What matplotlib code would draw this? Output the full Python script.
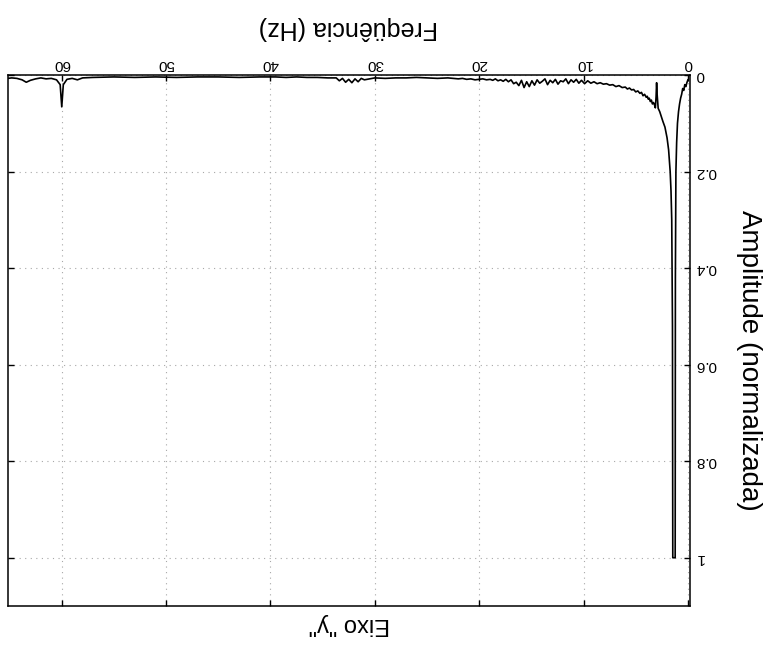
import matplotlib
matplotlib.use("Agg")
import matplotlib.pyplot as plt

plt.rcParams['font.family'] = ['Liberation Sans', 'DejaVu Sans']

# Normalised amplitude spectrum (frequency in Hz)
freq_hz = [
    0.00, 0.10, 0.20, 0.30, 0.40, 0.50, 0.60, 0.70, 0.80, 0.90,
    1.00, 1.08, 1.15, 1.20, 1.22, 1.45, 1.48, 1.55, 1.62, 1.70,
    1.85, 2.00, 2.20, 2.40, 2.55, 2.70, 2.85, 2.95, 3.00, 3.05,
    3.12, 3.20, 3.30, 3.40, 3.50, 3.60, 3.70, 3.80, 3.90, 4.00,
    4.15, 4.30, 4.45, 4.60, 4.80, 5.00, 5.20, 5.40, 5.60, 5.80,
    6.00, 6.30, 6.60, 6.90, 7.20, 7.50, 7.80, 8.10, 8.40, 8.70,
    9.00, 9.30, 9.60, 9.90, 10.20, 10.45, 10.70, 10.95, 11.20, 11.45,
    11.70, 11.95, 12.20, 12.45, 12.70, 12.95, 13.20, 13.45, 13.70, 13.95,
    14.20, 14.45, 14.70, 14.95, 15.20, 15.45, 15.70, 15.95, 16.20, 16.45,
    16.70, 16.95, 17.20, 17.45, 17.70, 17.95, 18.20, 18.45, 18.70, 18.95,
    19.30, 19.65, 20.00, 20.40, 20.80, 21.20, 21.60, 22.00, 23.00, 24.00,
    25.00, 26.00, 27.00, 28.00, 29.00, 30.00, 30.50, 31.00, 31.30, 31.60,
    31.90, 32.20, 32.50, 32.80, 33.10, 33.40, 33.70, 34.50, 35.50, 36.50,
    37.50, 38.50, 39.50, 41.00, 43.00, 45.00, 47.00, 49.00, 51.00, 53.00,
    55.00, 57.00, 58.00, 58.50, 59.00, 59.50, 59.85, 60.00, 60.15, 60.50,
    61.00, 61.50, 62.00, 62.50, 63.00, 63.40, 63.80, 64.30, 64.80, 65.15,
]
amplitude = [
    0.010, 0.016, 0.024, 0.020, 0.032, 0.028, 0.040, 0.048, 0.060, 0.076,
    0.100, 0.140, 0.200, 0.420, 1.000, 1.000, 0.520, 0.300, 0.240, 0.200,
    0.155, 0.130, 0.108, 0.096, 0.086, 0.076, 0.069, 0.040, 0.016, 0.045,
    0.068, 0.062, 0.057, 0.060, 0.052, 0.055, 0.048, 0.050, 0.044, 0.046,
    0.040, 0.043, 0.036, 0.038, 0.033, 0.035, 0.030, 0.031, 0.027, 0.029,
    0.025, 0.026, 0.022, 0.024, 0.020, 0.021, 0.018, 0.019, 0.016, 0.018,
    0.014, 0.017, 0.012, 0.018, 0.011, 0.017, 0.009, 0.015, 0.010, 0.018,
    0.008, 0.014, 0.012, 0.019, 0.009, 0.016, 0.011, 0.020, 0.008, 0.013,
    0.017, 0.010, 0.021, 0.012, 0.024, 0.014, 0.026, 0.011, 0.022, 0.015,
    0.018, 0.010, 0.014, 0.009, 0.013, 0.010, 0.012, 0.008, 0.011, 0.009,
    0.010, 0.008, 0.009, 0.010, 0.008, 0.009, 0.007, 0.008, 0.006, 0.007,
    0.006, 0.005, 0.006, 0.006, 0.007, 0.006, 0.008, 0.010, 0.007, 0.014,
    0.008, 0.016, 0.009, 0.015, 0.007, 0.012, 0.006, 0.006, 0.005, 0.005,
    0.004, 0.005, 0.004, 0.004, 0.005, 0.004, 0.004, 0.005, 0.004, 0.005,
    0.004, 0.005, 0.006, 0.010, 0.007, 0.009, 0.020, 0.066, 0.020, 0.010,
    0.007, 0.008, 0.006, 0.008, 0.011, 0.015, 0.010, 0.007, 0.006, 0.007,
]

x_ticks = [0, 10, 20, 30, 40, 50, 60]
x_tick_labels = ['0', '10', '20', '30', '40', '50', '60']
y_ticks = [0, 0.2, 0.4, 0.6, 0.8, 1.0]
y_tick_labels = ['0', '0.2', '0.4', '0.6', '0.8', '1']

fig = plt.figure(figsize=(7.73, 6.48), dpi=100)
ax = fig.add_axes([8 / 773, 42 / 648, 682 / 773, 531 / 648])

ax.plot(freq_hz, amplitude, color='black', lw=1.2, zorder=3)

# Both axes run reversed: 0 Hz on the right, zero amplitude at the top
ax.set_xlim(65.15, -0.2)
ax.set_ylim(1.1, 0)

ax.set_xticks(x_ticks)
ax.set_xticklabels(x_tick_labels)
ax.set_yticks(y_ticks)
ax.set_yticklabels(y_tick_labels)

ax.tick_params(axis='x', which='both', direction='in', top=True, bottom=True,
               labeltop=True, labelbottom=False, labelrotation=180,
               length=4, width=1, pad=3, labelsize=11)
ax.tick_params(axis='y', which='both', direction='in', left=True, right=True,
               labelleft=False, labelright=True, labelrotation=180,
               length=4, width=1, pad=4, labelsize=11)
for lbl in ax.get_yticklabels():
    lbl.set_va('center')

for sp in ax.spines.values():
    sp.set_linewidth(1.1)

ax.grid(True, linestyle=(0, (1, 4)), color='#a8a8a8', linewidth=0.8)
ax.set_axisbelow(True)

ax.set_xlabel('Freqüência (Hz)', fontsize=18, rotation=180)
ax.xaxis.set_label_position('top')
ax.xaxis.set_label_coords(0.4985, 1.0885)
ax.xaxis.label.set_va('center')
ax.xaxis.label.set_ha('center')

ax.set_ylabel('Amplitude (normalizada)', fontsize=20, rotation=270)
ax.yaxis.set_label_position('right')
ax.yaxis.set_label_coords(1.086, 0.462)
ax.yaxis.label.set_va('center')
ax.yaxis.label.set_ha('center')

ax.set_title('Eixo "y"', fontsize=17, rotation=180, x=0.5, y=-0.05,
             va='center', ha='center')

fig.savefig('out.png', dpi=100)
